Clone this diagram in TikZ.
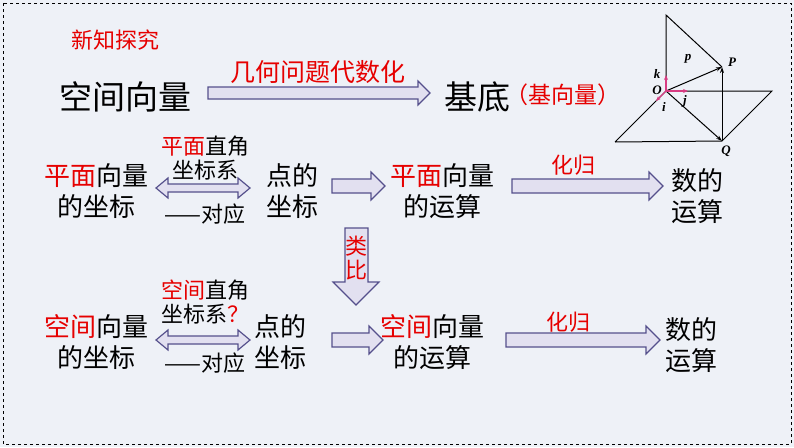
\documentclass[tikz,border=0pt]{standalone}
\usepackage{fontspec}
\setmainfont{Noto Sans CJK SC}
\newfontfamily\lsf{Liberation Serif}
\usetikzlibrary{arrows.meta}
\definecolor{bg}{RGB}{238,241,247}
\definecolor{af}{RGB}{226,224,240}
\definecolor{ab}{RGB}{85,80,140}
\definecolor{rd}{RGB}{230,0,0}
\definecolor{pk}{RGB}{215,60,130}
\tikzset{x=1pt,y=-1pt,
 big/.style={font=\fontsize{33}{34}\selectfont},
 mid/.style={font=\fontsize{26}{31}\selectfont},
 sm/.style={font=\fontsize{22}{24}\selectfont},
 blk/.style={fill=af,draw=ab,line width=1.2pt},
 lbl/.style={font=\fontsize{13}{14}\selectfont\lsf\bfseries\itshape,inner sep=1pt},
 ln/.style={line width=1pt,-{Stealth[length=6pt,width=4pt]}},
 pka/.style={pk,line width=1.2pt,-{Stealth[length=5pt,width=4pt]}}}
\newcommand{\rarrow}[5]{% x1 x2 y halfshaft halfhead
 \draw[blk] (#1,#3-#4) -- (#2-#5,#3-#4) -- (#2-#5,#3-#5) -- (#2,#3) -- (#2-#5,#3+#5) -- (#2-#5,#3+#4) -- (#1,#3+#4) -- cycle;}
\newcommand{\darrow}[3]{% x1 x2 y
 \draw[blk] (#1,#3) -- (#1+12,#3-10) -- (#1+12,#3-4) -- (#2-12,#3-4) -- (#2-12,#3-10) -- (#2,#3) -- (#2-12,#3+10) -- (#2-12,#3+4) -- (#1+12,#3+4) -- (#1+12,#3+10) -- cycle;}
\begin{document}
\begin{tikzpicture}
\fill[bg] (0,0) rectangle (794,447);
\draw[dashed,line width=1pt] (3,3) rectangle (791,444);
\useasboundingbox (0,0) rectangle (794,447);
\node[text=rd,font=\fontsize{22}{24}\selectfont] (t) at (115,40) {新知探究};
\node[big] (kj) at (125,97) {空间向量};
\rarrow{208}{430}{93}{6}{12}
\node[text=rd,font=\fontsize{25}{26}\selectfont] (l1) at (318,72) {几何问题代数化};
\node[big] (jd) at (477,97) {基底};
\node[text=rd,font=\fontsize{23}{24}\selectfont] (jx) at (563,95) {（基向量）};
% 3D figure
\coordinate (O) at (666,91); \coordinate (T) at (666,15);
\coordinate (P) at (722,67); \coordinate (Q) at (722,141);
\coordinate (BL) at (615,142); \coordinate (R) at (772,91);
\draw[line width=1pt] (BL) -- (Q) -- (R) -- (O) -- (BL);
\draw[line width=1pt] (O) -- (T) -- (P);
\draw[ln] (O) -- (P); \draw[ln] (O) -- (Q); \draw[ln] (Q) -- (P);
\draw[pka] (O) -- (666,75);
\draw[pka] (O) -- (688,91);
\draw[pka] (O) -- (656,101);
\node[lbl] (k) at (657,74) {k};
\node[lbl] (p) at (688,59) {p};
\node[lbl] (o) at (657,90) {O};
\node[lbl] (j) at (685,101) {j};
\node[lbl] (i) at (664,107) {i};
\node[lbl] (pp) at (732,62) {P};
\node[lbl] (qq) at (726,151) {Q};
% row 1
\node[mid,align=center] (a1) at (96,191) {\textcolor{rd}{平面}向量\\的坐标};
\darrow{156}{250}{188}
\node[sm,align=center] (b1) at (205,158) {\textcolor{rd}{平面}直角\\坐标系};
\node[sm] (c1) at (205,214) {——对应};
\node[mid,align=center] (d1) at (292,191) {点的\\坐标};
\rarrow{332}{385}{186}{7}{14}
\node[mid,align=center] (e1) at (442,191) {\textcolor{rd}{平面}向量\\的运算};
\rarrow{512}{663}{186}{7}{14}
\node[text=rd,sm] (f1) at (573,165) {化归};
\node[mid,align=center] (g1) at (697,196) {数的\\运算};
% down arrow
\draw[blk] (345,228) -- (368,228) -- (368,282) -- (379,282) -- (356,305) -- (333,282) -- (345,282) -- cycle;
\node[text=rd,sm,align=center,inner sep=0pt] (lb) at (356,258) {类\\比};
% row 2
\node[mid,align=center] (a2) at (96,342) {\textcolor{rd}{空间}向量\\的坐标};
\darrow{156}{250}{340}
\node[sm,align=center] (b2) at (205,302) {\textcolor{rd}{空间}直角\\坐标系\textcolor{rd}{？}};
\node[sm] (c2) at (205,363) {——对应};
\node[mid,align=center] (d2) at (280,342) {点的\\坐标};
\rarrow{332}{383}{340}{7}{14}
\node[mid,align=center] (e2) at (432,342) {\textcolor{rd}{空间}向量\\的运算};
\rarrow{506}{660}{340}{7}{14}
\node[text=rd,sm] (f2) at (568,322) {化归};
\node[mid,align=center] (g2) at (691,345) {数的\\运算};
\end{tikzpicture}
\end{document}
